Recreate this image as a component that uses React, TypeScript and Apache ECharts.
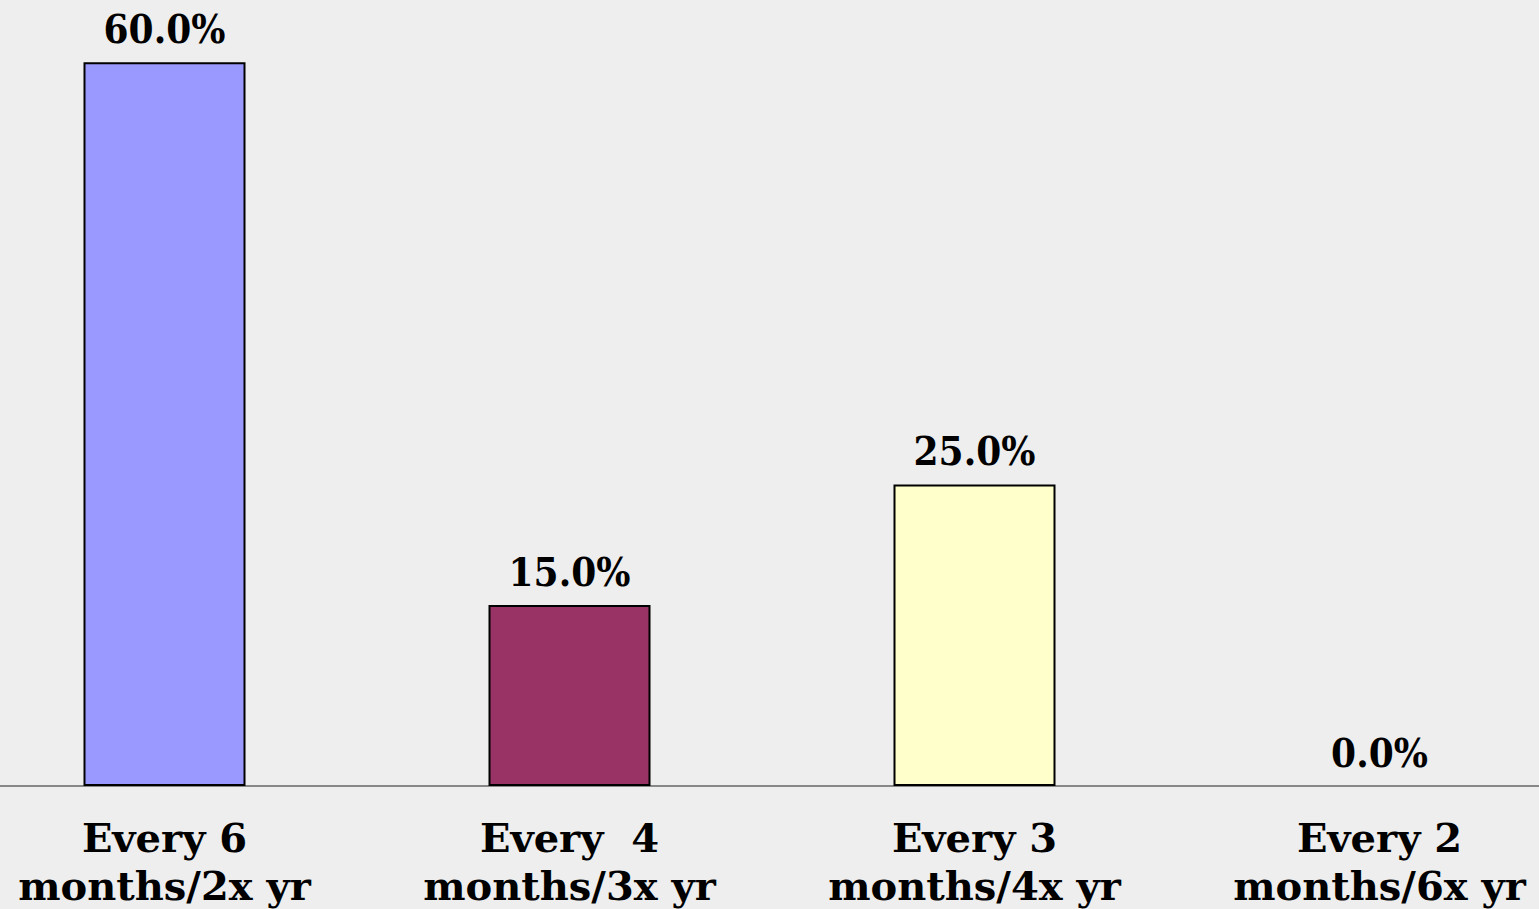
import React, { useEffect, useRef } from "react";
import * as echarts from "echarts";

const categories = ["Every 6\nmonths/2x yr", "Every  4\nmonths/3x yr", "Every 3\nmonths/4x yr", "Every 2\nmonths/6x yr"];
const values = [60.0, 15.0, 25.0, 0.0];
const barColors = ["#9999ff", "#993366", "#ffffcc", "#99ccff"];

const VALUE_FONT = "DejaVu Serif Condensed";
const CAT_FONT = "DejaVu Serif";

export default function App() {
  const ref = useRef<HTMLDivElement>(null);
  useEffect(() => {
    const chart = echarts.init(ref.current!, null, { renderer: "svg" });
    chart.setOption({
      animation: false,
      backgroundColor: "#eeeeee",
      grid: { left: -38, right: -43, top: 2, bottom: 123, containLabel: false, outerBoundsMode: "none" },
      xAxis: {
        type: "category",
        data: categories,
        axisLine: { show: true, lineStyle: { color: "#888888", width: 2 } },
        axisTick: { show: false },
        axisLabel: {
          interval: 0,
          margin: 27,
          color: "#000",
          fontFamily: CAT_FONT,
          fontWeight: "bold",
          fontSize: 40,
          lineHeight: 48,
        },
      },
      yAxis: {
        type: "value",
        min: 0,
        max: 65,
        show: false,
        splitLine: { show: false },
      },
      series: [
        {
          type: "bar",
          barWidth: "40%",
          data: values.map((v, i) => ({
            value: v,
            itemStyle: { color: barColors[i], borderColor: "#000", borderWidth: v === 0 ? 0 : 2 },
          })),
          label: {
            show: true,
            position: "top",
            distance: 14,
            color: "#000",
            fontFamily: VALUE_FONT,
            fontWeight: "bold",
            fontSize: 40,
            formatter: (p: any) => p.value.toFixed(1) + "%",
          },
        },
      ],
    });
    return () => chart.dispose();
  }, []);
  return <div ref={ref} style={{ position: "absolute", left: 0, top: 0, width: 1539, height: 909 }} />;
}
